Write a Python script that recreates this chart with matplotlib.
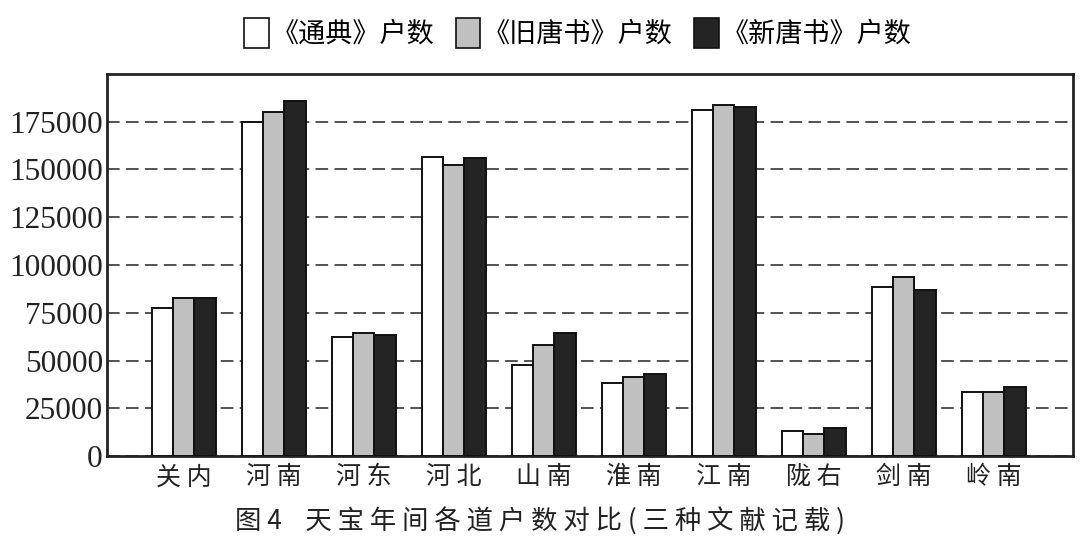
import numpy as np
import matplotlib
matplotlib.use("Agg")
import matplotlib.pyplot as plt
from matplotlib.patches import Patch

plt.rcParams['font.family'] = ['Noto Sans CJK SC', 'DejaVu Sans']

regions = ["关内", "河南", "河东", "河北", "山南", "淮南", "江南", "陇右", "剑南", "岭南"]
tongdian = [77500, 175000, 62200, 156800, 47700, 38100, 180900, 13100, 88500, 33700]
jiu_tang = [82500, 180200, 64200, 152400, 58200, 41300, 183700, 11500, 93700, 33700]
xin_tang = [82500, 185700, 63600, 156100, 64300, 42700, 182900, 14700, 86700, 36000]
series_names = ["《通典》户数", "《旧唐书》户数", "《新唐书》户数"]
colors = ["#ffffff", "#c0c0c0", "#242424"]
yticks = [0, 25000, 50000, 75000, 100000, 125000, 150000, 175000]

fig = plt.figure(figsize=(10.8, 5.42), dpi=100)
ax = fig.add_axes([107 / 1080, 1 - 456 / 542, (1073 - 107) / 1080, (456 - 74) / 542])

x = np.arange(len(regions))
w = 0.237
for i, (vals, col) in enumerate(zip([tongdian, jiu_tang, xin_tang], colors)):
    ax.bar(x + (i - 1) * w, vals, w, color=col, edgecolor="#111111", linewidth=1.4, zorder=3)

ax.set_ylim(0, 200000)
ax.set_xlim(-0.85, 9.88)
ax.set_yticks(yticks)
ax.set_yticklabels([str(v) for v in yticks], fontfamily="Liberation Serif", fontsize=22.5)
ax.set_xticks(x)
ax.set_xticklabels([" ".join(r) for r in regions], fontsize=18)
ax.tick_params(axis="both", length=0, pad=3, colors="#222222")
ax.tick_params(axis="x", pad=6)
ax.yaxis.grid(True, linestyle=(0, (7, 3.5)), color="#444444", linewidth=1.3, zorder=0)
for s in ax.spines.values():
    s.set_linewidth(2)
    s.set_color("#222222")

handles = [Patch(facecolor=c, edgecolor="#111111", linewidth=1.2) for c in colors]
fig.legend(handles, series_names, loc="center", bbox_to_anchor=(0.535, 1 - 33 / 542),
           ncol=3, frameon=False, fontsize=19.5, handlelength=0.9, handleheight=1.3,
           handletextpad=0.1, columnspacing=0.8)

fig.text(0.5, 1 - 522 / 542, "图 4    天 宝 年 间 各 道 户 数 对 比 ( 三 种 文 献 记 载 )",
         ha="center", va="center", fontsize=19, color="#222222")

fig.savefig("out.png", dpi=100)
